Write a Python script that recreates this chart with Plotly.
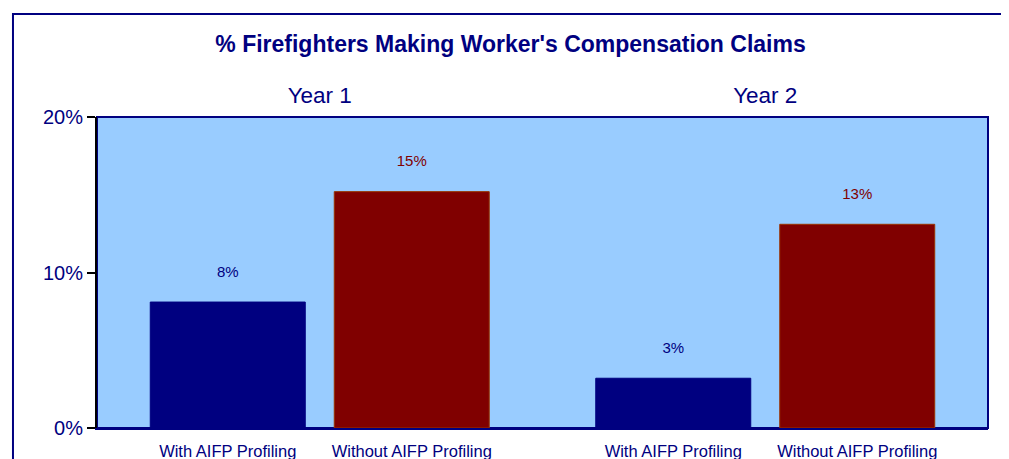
import plotly.graph_objects as go

years = ["Year 1", "Year 2"]
series_names = ["With AIFP Profiling", "Without AIFP Profiling"]
with_vals = [0.081, 0.032]
without_vals = [0.152, 0.131]
with_labels = ["8%", "3%"]
without_labels = ["15%", "13%"]
y_ticks = [0, 0.1, 0.2]
y_ticklabels = ["0%", "10%", "20%"]

NAVY = "#000080"
DARKRED = "#800000"
FONT = "Liberation Sans, Arial, sans-serif"

fig = go.Figure()
fig.add_trace(go.Bar(
    x=years, y=with_vals, name=series_names[0],
    marker=dict(color=NAVY, line=dict(color=NAVY, width=1)),
    text=[t + "<br> " for t in with_labels], textposition="outside",
    textfont=dict(color=NAVY, size=15, family=FONT), cliponaxis=False,
))
fig.add_trace(go.Bar(
    x=years, y=without_vals, name=series_names[1],
    marker=dict(color=DARKRED, line=dict(color="#993300", width=1)),
    text=[t + "<br> " for t in without_labels], textposition="outside",
    textfont=dict(color=DARKRED, size=15, family=FONT), cliponaxis=False,
))

# invisible trace to carry the bottom axis of series labels
offset = 0.2065
bottom_vals = []
bottom_text = []
for i, _ in enumerate(years):
    bottom_vals += [i - offset, i + offset]
    bottom_text += series_names
fig.add_trace(go.Scatter(x=bottom_vals, y=[0] * len(bottom_vals), xaxis="x2",
                         mode="markers", marker=dict(opacity=0), hoverinfo="skip",
                         showlegend=False))

fig.update_layout(
    width=1001, height=451,
    margin=dict(l=89, r=21, t=109, b=31, autoexpand=False),
    paper_bgcolor="white", plot_bgcolor="#99CCFF",
    showlegend=False,
    barmode="group", bargap=0.174, bargroupgap=0.1576,
    font=dict(family=FONT, color=NAVY),
    title=dict(text="<b>% Firefighters Making Worker's Compensation Claims</b>",
               x=0.502, xanchor="center", y=0.920, yanchor="middle",
               font=dict(size=23, color=NAVY, family=FONT)),
    xaxis=dict(type="category", side="top", showgrid=False, ticks="",
               tickfont=dict(size=22.5, color=NAVY), ticklabelstandoff=9,
               showline=False, zeroline=False, automargin=False),
    xaxis2=dict(overlaying="x", side="bottom", anchor="y", range=[-0.5, 1.5],
                tickvals=bottom_vals, ticktext=bottom_text, ticks="",
                tickfont=dict(size=16.5, color=NAVY), ticklabelstandoff=7,
                showgrid=False, zeroline=False, showline=True, linecolor=NAVY,
                linewidth=2, automargin=False),
    yaxis=dict(range=[0, 0.2], tickvals=y_ticks, ticktext=y_ticklabels,
               tickfont=dict(size=20, color=NAVY), ticks="outside", ticklen=8,
               tickcolor="black", tickwidth=2, showgrid=False, zeroline=False,
               showline=True, linecolor="black", linewidth=2, automargin=False),
    shapes=[
        dict(type="rect", xref="paper", yref="paper", x0=0, x1=1, y0=0, y1=1,
             line=dict(color=NAVY, width=2), layer="below"),
        dict(type="rect", xref="paper", yref="paper", x0=-0.0943, x1=1.019,
             y0=-0.3, y1=1.331, line=dict(color=NAVY, width=2), layer="below"),
    ],
)

fig.write_html("out.html")
